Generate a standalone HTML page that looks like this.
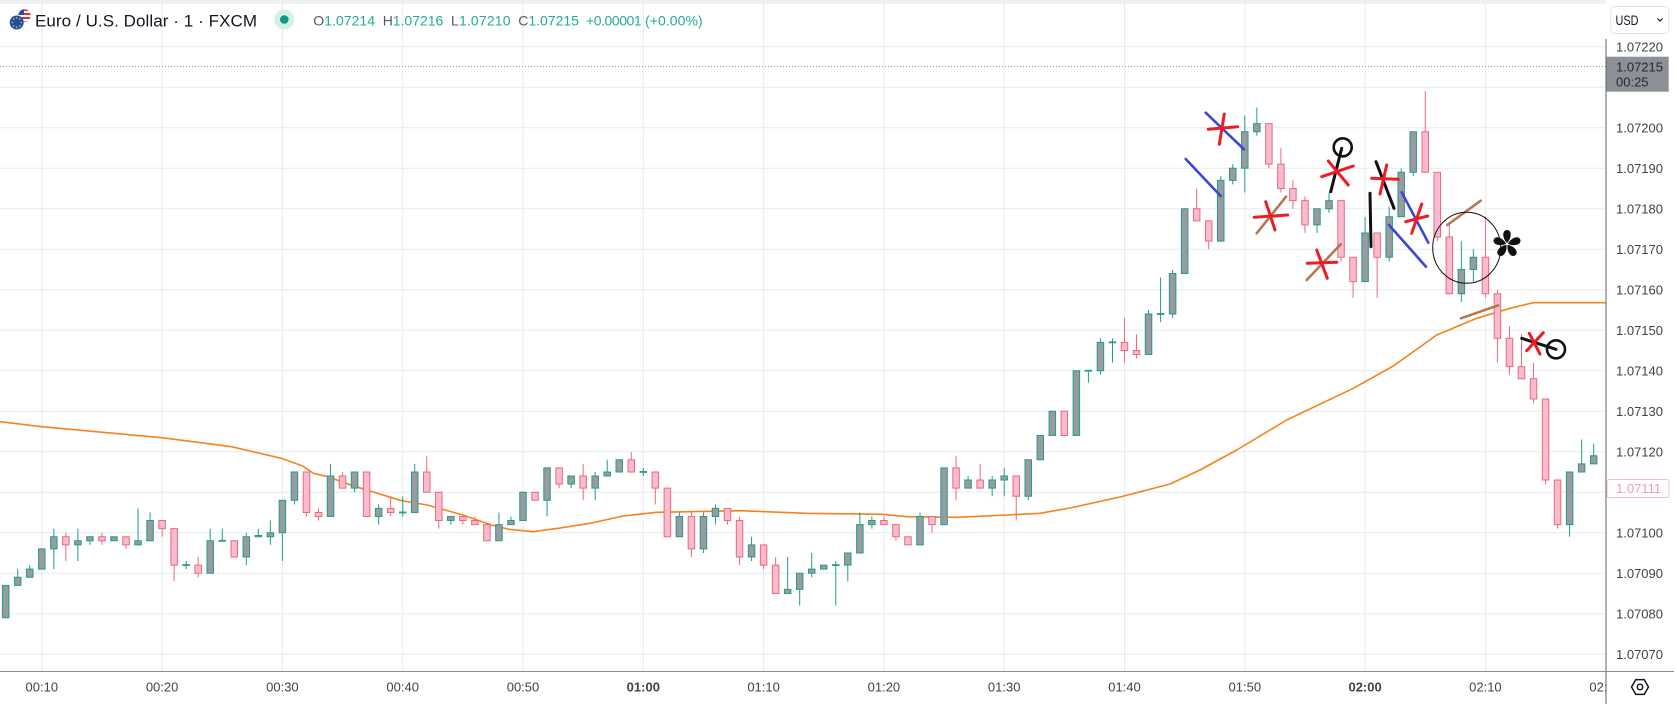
<!DOCTYPE html>
<html><head><meta charset="utf-8">
<style>
html,body{margin:0;padding:0;background:#fff;}
svg{display:block;font-family:"Liberation Sans",Arial,sans-serif;}
.c *{vector-effect:non-scaling-stroke;}
.u path{stroke:#1f9e89;stroke-width:1;fill:none;}
.u rect{fill:#9a9aa0;stroke:#1f9e89;stroke-width:1;}
.d path{stroke:#ec6a78;stroke-width:1;fill:none;}
.d rect{fill:#f8bbd0;stroke:#ec6a78;stroke-width:1;}
.pl{font-size:13px;fill:#3f424b;}
.tl{font-size:13px;fill:#3f424b;text-anchor:middle;}
</style></head>
<body>
<svg width="1677" height="704" viewBox="0 0 1677 704" xmlns="http://www.w3.org/2000/svg">
<defs>
<clipPath id="chart"><rect x="0" y="0" width="1606" height="671"/></clipPath>
<clipPath id="tclip"><rect x="0" y="672" width="1606" height="32"/></clipPath>
<clipPath id="usc"><circle cx="24.5" cy="15.5" r="6.2"/></clipPath>
</defs>
<rect width="1677" height="704" fill="#fff"/>
<rect x="0" y="0" width="1606" height="4" fill="#eef0f4"/>

<!-- grid -->
<g stroke="#e6ebf1" stroke-width="1">
<line x1="0" y1="46.7" x2="1606" y2="46.7"/>
<line x1="0" y1="87.2" x2="1606" y2="87.2"/>
<line x1="0" y1="127.7" x2="1606" y2="127.7"/>
<line x1="0" y1="168.2" x2="1606" y2="168.2"/>
<line x1="0" y1="208.7" x2="1606" y2="208.7"/>
<line x1="0" y1="249.2" x2="1606" y2="249.2"/>
<line x1="0" y1="289.7" x2="1606" y2="289.7"/>
<line x1="0" y1="330.2" x2="1606" y2="330.2"/>
<line x1="0" y1="370.7" x2="1606" y2="370.7"/>
<line x1="0" y1="411.2" x2="1606" y2="411.2"/>
<line x1="0" y1="451.7" x2="1606" y2="451.7"/>
<line x1="0" y1="492.2" x2="1606" y2="492.2"/>
<line x1="0" y1="532.7" x2="1606" y2="532.7"/>
<line x1="0" y1="573.2" x2="1606" y2="573.2"/>
<line x1="0" y1="613.7" x2="1606" y2="613.7"/>
<line x1="0" y1="654.2" x2="1606" y2="654.2"/>
<line x1="41.8" y1="0" x2="41.8" y2="671"/>
<line x1="162.1" y1="0" x2="162.1" y2="671"/>
<line x1="282.4" y1="0" x2="282.4" y2="671"/>
<line x1="402.7" y1="0" x2="402.7" y2="671"/>
<line x1="523" y1="0" x2="523" y2="671"/>
<line x1="643.3" y1="0" x2="643.3" y2="671"/>
<line x1="763.6" y1="0" x2="763.6" y2="671"/>
<line x1="883.9" y1="0" x2="883.9" y2="671"/>
<line x1="1004.2" y1="0" x2="1004.2" y2="671"/>
<line x1="1124.5" y1="0" x2="1124.5" y2="671"/>
<line x1="1244.8" y1="0" x2="1244.8" y2="671"/>
<line x1="1365.1" y1="0" x2="1365.1" y2="671"/>
<line x1="1485.4" y1="0" x2="1485.4" y2="671"/>
</g>

<!-- last price dotted line -->
<line x1="0" y1="66.5" x2="1606" y2="66.5" stroke="#9598a1" stroke-width="1" stroke-dasharray="1 2"/>

<g clip-path="url(#chart)">
<!-- moving average -->
<polyline fill="none" stroke="#f7821b" stroke-width="1.6" stroke-linejoin="round" points="0,421.7 41.8,426.7 106.9,432.7 162,437.7 231.5,446.7 281.3,458.3 302.7,466 313.4,473.3 327.6,476.7 356,486.7 401.6,500.7 427.3,505 462.9,515 491.3,525 509,529.3 533,531.7 558,528.3 590,523.3 623.3,516 656.7,512.3 740,510.7 806.7,513.3 883.3,514.3 906.7,516.7 956.7,517.3 1006.7,515 1040,513.3 1070,508 1120,497 1170,484 1200,470 1236.7,450 1286.7,420 1353.3,388.3 1393.3,366 1436.7,335 1476.7,318.3 1510,308.3 1533.3,302.7 1606,302.7"/>

<!-- candles -->
<g class="c" transform="matrix(12.03 0 0 -4.05 -78.5 937.7)">
<g class="u">
<path d="M7 79V87M8 87V91M9 89V92M10 91V96M11 91V101M13 93V101M14 97V99M16 98V99M18 97V106M19 98V105M22 91V93M24 90V101M25 98V101M27 92V100M28 99V101M29 97V103M30 93V108M31 107V115M34 104V117M36 110V115M38 102V107M40 104V109M41 105V117M44 102V104M48 98V105M49 102V104M50 103V110M52 104V116M54 111V114M56 108V115M57 114V118M58 115V118M60 114V116M63 99V105M65 95V105M66 102V107M69 93V99M72 85V94M73 82V90M74 89V95M75 91V92M76 82V93M77 88V95M78 95V105M79 101V104M83 97V105M85 102V116M87 111V114M89 109V114M90 109V116M92 108V118M93 118V124M94 124V130M96 124V140M97 137V140M98 139V148M99 142V148M102 144V155M103 152V163M104 153V165M105 164V180M108 172V188M109 186V191M110 184V203M111 198V205M116 174V180M117 179V184M120 162V178M122 167V180.5M123 178V190M124 188V199M128 157V172M129 162V170M137 99V115M138 115V123M139 117V122"/>
<rect x="6.73" y="79" width="0.54" height="8"/>
<rect x="7.73" y="87" width="0.54" height="2"/>
<rect x="8.73" y="89" width="0.54" height="2"/>
<rect x="9.73" y="91" width="0.54" height="5"/>
<rect x="10.73" y="96" width="0.54" height="3"/>
<rect x="12.73" y="97" width="0.54" height="1"/>
<rect x="13.73" y="98" width="0.54" height="1"/>
<rect x="15.73" y="98" width="0.54" height="1"/>
<rect x="17.73" y="97" width="0.54" height="1"/>
<rect x="18.73" y="98" width="0.54" height="5"/>
<rect x="21.73" y="91.9" width="0.54" height="0.2"/>
<rect x="23.73" y="90" width="0.54" height="8"/>
<rect x="24.73" y="97.9" width="0.54" height="0.2"/>
<rect x="26.73" y="94" width="0.54" height="5"/>
<rect x="27.73" y="99" width="0.54" height="0.3"/>
<rect x="28.73" y="99" width="0.54" height="1"/>
<rect x="29.73" y="100" width="0.54" height="8"/>
<rect x="30.73" y="108" width="0.54" height="7"/>
<rect x="33.73" y="104" width="0.54" height="10"/>
<rect x="35.73" y="111" width="0.54" height="4"/>
<rect x="37.73" y="104" width="0.54" height="2"/>
<rect x="39.73" y="104.9" width="0.54" height="0.2"/>
<rect x="40.73" y="105" width="0.54" height="10"/>
<rect x="43.73" y="103" width="0.54" height="1"/>
<rect x="47.73" y="98" width="0.54" height="4"/>
<rect x="48.73" y="102" width="0.54" height="1"/>
<rect x="49.73" y="103" width="0.54" height="7"/>
<rect x="51.73" y="108" width="0.54" height="8"/>
<rect x="53.73" y="112" width="0.54" height="2"/>
<rect x="55.73" y="111" width="0.54" height="3"/>
<rect x="56.73" y="114" width="0.54" height="1"/>
<rect x="57.73" y="115" width="0.54" height="3"/>
<rect x="59.73" y="114.9" width="0.54" height="0.2"/>
<rect x="62.73" y="99" width="0.54" height="5"/>
<rect x="64.73" y="96" width="0.54" height="8"/>
<rect x="65.73" y="104" width="0.54" height="2"/>
<rect x="68.73" y="94" width="0.54" height="3"/>
<rect x="71.73" y="85" width="0.54" height="1"/>
<rect x="72.73" y="86" width="0.54" height="4"/>
<rect x="73.73" y="90" width="0.54" height="1"/>
<rect x="74.73" y="91" width="0.54" height="1"/>
<rect x="75.73" y="91.9" width="0.54" height="0.2"/>
<rect x="76.73" y="92" width="0.54" height="3"/>
<rect x="77.73" y="95" width="0.54" height="7"/>
<rect x="78.73" y="102" width="0.54" height="1"/>
<rect x="82.73" y="97" width="0.54" height="7"/>
<rect x="84.73" y="102" width="0.54" height="14"/>
<rect x="86.73" y="111" width="0.54" height="2"/>
<rect x="88.73" y="111" width="0.54" height="2"/>
<rect x="89.73" y="113" width="0.54" height="1"/>
<rect x="91.73" y="109" width="0.54" height="9"/>
<rect x="92.73" y="118" width="0.54" height="6"/>
<rect x="93.73" y="124" width="0.54" height="6"/>
<rect x="95.73" y="124" width="0.54" height="16"/>
<rect x="96.73" y="139.9" width="0.54" height="0.2"/>
<rect x="97.73" y="140" width="0.54" height="7"/>
<rect x="98.73" y="146.9" width="0.54" height="0.2"/>
<rect x="101.73" y="144" width="0.54" height="10"/>
<rect x="102.73" y="153.9" width="0.54" height="0.2"/>
<rect x="103.73" y="154" width="0.54" height="10"/>
<rect x="104.73" y="164" width="0.54" height="16"/>
<rect x="107.73" y="172" width="0.54" height="15"/>
<rect x="108.73" y="187" width="0.54" height="3"/>
<rect x="109.73" y="190" width="0.54" height="9"/>
<rect x="110.73" y="199" width="0.54" height="2"/>
<rect x="115.73" y="176" width="0.54" height="4"/>
<rect x="116.73" y="180" width="0.54" height="2"/>
<rect x="119.73" y="162" width="0.54" height="12"/>
<rect x="121.73" y="168" width="0.54" height="10"/>
<rect x="122.73" y="178" width="0.54" height="11"/>
<rect x="123.73" y="189" width="0.54" height="10"/>
<rect x="127.73" y="159" width="0.54" height="6"/>
<rect x="128.73" y="165" width="0.54" height="3"/>
<rect x="136.73" y="102" width="0.54" height="13"/>
<rect x="137.73" y="115" width="0.54" height="2"/>
<rect x="138.73" y="117" width="0.54" height="2"/>
</g>
<g class="d">
<path d="M12 93V100M15 97V100M17 96V99M20 99V103M21 88V101M23 89V94M26 94V98M32 104V115M33 103V106M35 111V115M37 104V115M39 104V109M42 110V119M43 101V110M45 102V104M46 102V104M47 98V102M51 108V110M53 111V116M55 108V117M59 115V120M61 107V115M62 99V111M64 94V105M67 102V106M68 92V104M70 91V97M71 85V94M80 102V104M81 98V102M82 97V99M84 100V104M86 108V119M88 111V117M91 103V114M95 124V130M100 142V153M101 143V149M106 177V185M107 170V177M112 190V201M113 184V195M114 180V187M115 174V183M118 167V182M119 158V168M121 158V174M125 189V209M126 172V189M127 159V176M130 158V178M131 142V160M132 139V151M133 138V149M134 132V142M135 112V133M136 101V113"/>
<rect x="11.73" y="97" width="0.54" height="2"/>
<rect x="14.73" y="98" width="0.54" height="1"/>
<rect x="16.73" y="97" width="0.54" height="2"/>
<rect x="19.73" y="101" width="0.54" height="2"/>
<rect x="20.73" y="92" width="0.54" height="9"/>
<rect x="22.73" y="90" width="0.54" height="2"/>
<rect x="25.73" y="94" width="0.54" height="4"/>
<rect x="31.73" y="105" width="0.54" height="10"/>
<rect x="32.73" y="104" width="0.54" height="1"/>
<rect x="34.73" y="111" width="0.54" height="3"/>
<rect x="36.73" y="104" width="0.54" height="11"/>
<rect x="38.73" y="105" width="0.54" height="1"/>
<rect x="41.73" y="110" width="0.54" height="5"/>
<rect x="42.73" y="103" width="0.54" height="7"/>
<rect x="44.73" y="103" width="0.54" height="1"/>
<rect x="45.73" y="102" width="0.54" height="1"/>
<rect x="46.73" y="98" width="0.54" height="4"/>
<rect x="50.73" y="108" width="0.54" height="2"/>
<rect x="52.73" y="112" width="0.54" height="4"/>
<rect x="54.73" y="111" width="0.54" height="3"/>
<rect x="58.73" y="115" width="0.54" height="3"/>
<rect x="60.73" y="111" width="0.54" height="4"/>
<rect x="61.73" y="99" width="0.54" height="12"/>
<rect x="63.73" y="96" width="0.54" height="8"/>
<rect x="66.73" y="103" width="0.54" height="3"/>
<rect x="67.73" y="94" width="0.54" height="9"/>
<rect x="69.73" y="92" width="0.54" height="5"/>
<rect x="70.73" y="85" width="0.54" height="7"/>
<rect x="79.73" y="102" width="0.54" height="1"/>
<rect x="80.73" y="99" width="0.54" height="3"/>
<rect x="81.73" y="97" width="0.54" height="2"/>
<rect x="83.73" y="102" width="0.54" height="2"/>
<rect x="85.73" y="111" width="0.54" height="5"/>
<rect x="87.73" y="111" width="0.54" height="2"/>
<rect x="90.73" y="109" width="0.54" height="5"/>
<rect x="94.73" y="124" width="0.54" height="6"/>
<rect x="99.73" y="145" width="0.54" height="2"/>
<rect x="100.73" y="144" width="0.54" height="1"/>
<rect x="105.73" y="177" width="0.54" height="3"/>
<rect x="106.73" y="172" width="0.54" height="5"/>
<rect x="111.73" y="191" width="0.54" height="10"/>
<rect x="112.73" y="185" width="0.54" height="6"/>
<rect x="113.73" y="182" width="0.54" height="3"/>
<rect x="114.73" y="176" width="0.54" height="6"/>
<rect x="117.73" y="168" width="0.54" height="14"/>
<rect x="118.73" y="162" width="0.54" height="6"/>
<rect x="120.73" y="168" width="0.54" height="6"/>
<rect x="124.73" y="189" width="0.54" height="10"/>
<rect x="125.73" y="173" width="0.54" height="16"/>
<rect x="126.73" y="159" width="0.54" height="14"/>
<rect x="129.73" y="159" width="0.54" height="9"/>
<rect x="130.73" y="148" width="0.54" height="11"/>
<rect x="131.73" y="141" width="0.54" height="7"/>
<rect x="132.73" y="138" width="0.54" height="3"/>
<rect x="133.73" y="133" width="0.54" height="5"/>
<rect x="134.73" y="113" width="0.54" height="20"/>
<rect x="135.73" y="102" width="0.54" height="11"/>
</g>
</g>

<!-- drawings -->
<g fill="none" stroke-linecap="round">
<g stroke="#3c45d6" stroke-width="2.6">
<line x1="1205.7" y1="112.7" x2="1244" y2="149.3"/>
<line x1="1185.7" y1="159" x2="1220.7" y2="196"/>
<line x1="1401.7" y1="192.3" x2="1428.3" y2="242.7"/>
<line x1="1389" y1="225" x2="1426" y2="266.7"/>
</g>
<g stroke="#b5784f" stroke-width="2.6">
<line x1="1256.7" y1="233.3" x2="1286" y2="196.7"/>
<line x1="1306.7" y1="280" x2="1340.7" y2="244.3"/>
<line x1="1447.3" y1="225" x2="1480.7" y2="200.7"/>
<line x1="1461" y1="318.3" x2="1498.3" y2="305.3"/>
</g>
<g stroke="#111" stroke-width="3">
<line x1="1341.7" y1="148.3" x2="1330.7" y2="191.7"/>
<circle cx="1342.7" cy="147.3" r="9" stroke-width="2.6"/>
<line x1="1370" y1="193.3" x2="1371" y2="246.7"/>
<line x1="1376" y1="161.7" x2="1394" y2="208.3"/>
<line x1="1521.7" y1="338.3" x2="1556" y2="349.3"/>
<circle cx="1556" cy="349.3" r="9" stroke-width="2.6"/>
</g>
<g stroke="#ee1c25" stroke-width="3">
<line x1="1208.3" y1="129.3" x2="1237.7" y2="126.7"/>
<line x1="1224.3" y1="114" x2="1219.3" y2="144.3"/>
<line x1="1254.3" y1="217.3" x2="1287.7" y2="215"/>
<line x1="1265.7" y1="201.7" x2="1275" y2="230"/>
<line x1="1321.7" y1="176.7" x2="1353.3" y2="166"/>
<line x1="1328.3" y1="161" x2="1348.3" y2="185"/>
<line x1="1307.3" y1="263.3" x2="1336.7" y2="262.3"/>
<line x1="1316.7" y1="250" x2="1327.3" y2="278.3"/>
<line x1="1371.7" y1="178.3" x2="1398.3" y2="179.3"/>
<line x1="1386.7" y1="165" x2="1380" y2="194"/>
<line x1="1405.7" y1="221.7" x2="1427.7" y2="216"/>
<line x1="1421.7" y1="204" x2="1411.7" y2="233.3"/>
<line x1="1529.3" y1="333.3" x2="1540" y2="354"/>
<line x1="1543.3" y1="332.7" x2="1526.7" y2="350.7"/>
</g>
<ellipse cx="1466.7" cy="247.8" rx="34" ry="35.5" stroke="#111" stroke-width="1"/>
</g>
<g fill="#111" transform="translate(1507,244)">
<path d="M0 -1 C-5 -6 -5 -14 0 -14 C5 -14 5 -6 0 -1Z"/>
<path d="M0 -1 C-5 -6 -5 -14 0 -14 C5 -14 5 -6 0 -1Z" transform="rotate(72)"/>
<path d="M0 -1 C-5 -6 -5 -14 0 -14 C5 -14 5 -6 0 -1Z" transform="rotate(144)"/>
<path d="M0 -1 C-5 -6 -5 -14 0 -14 C5 -14 5 -6 0 -1Z" transform="rotate(216)"/>
<path d="M0 -1 C-5 -6 -5 -14 0 -14 C5 -14 5 -6 0 -1Z" transform="rotate(288)"/>
</g>
</g>

<!-- axes -->
<line x1="1606" y1="39" x2="1606" y2="704" stroke="#5d606b" stroke-width="1"/>
<line x1="0" y1="671.5" x2="1674" y2="671.5" stroke="#8a8d96" stroke-width="1"/>

<!-- price labels -->
<g class="pl">
<text x="1616" y="51.3">1.07220</text>
<text x="1616" y="132.3">1.07200</text>
<text x="1616" y="172.8">1.07190</text>
<text x="1616" y="213.3">1.07180</text>
<text x="1616" y="253.8">1.07170</text>
<text x="1616" y="294.3">1.07160</text>
<text x="1616" y="334.8">1.07150</text>
<text x="1616" y="375.3">1.07140</text>
<text x="1616" y="415.8">1.07130</text>
<text x="1616" y="456.3">1.07120</text>
<text x="1616" y="537.3">1.07100</text>
<text x="1616" y="577.8">1.07090</text>
<text x="1616" y="618.3">1.07080</text>
<text x="1616" y="658.8">1.07070</text>
</g>
<rect x="1606.5" y="56.7" width="62.2" height="35" fill="#8e9098"/>
<text x="1616" y="71.5" font-size="13" fill="#24272e">1.07215</text>
<text x="1616" y="86.5" font-size="13" fill="#24272e">00:25</text>
<rect x="1607" y="479.5" width="62" height="18" rx="2" fill="#fff" stroke="#f8bbd0" stroke-width="1"/>
<text x="1616" y="493" font-size="13" fill="#f29bb1">1.07111</text>

<!-- USD button -->
<rect x="1610.7" y="6.5" width="58" height="27" rx="4" fill="#fff" stroke="#e0e3eb"/>
<text x="1615.5" y="25" font-size="14" fill="#131722" textLength="23" lengthAdjust="spacingAndGlyphs">USD</text>
<path d="M1657.5 18.5 L1660 21 L1662.5 18.5" fill="none" stroke="#131722" stroke-width="1.2"/>

<!-- time labels -->
<g class="tl">
<text x="41.8" y="691.3">00:10</text>
<text x="162.1" y="691.3">00:20</text>
<text x="282.4" y="691.3">00:30</text>
<text x="402.7" y="691.3">00:40</text>
<text x="523" y="691.3">00:50</text>
<text x="643.3" y="691.3" font-weight="bold">01:00</text>
<text x="763.6" y="691.3">01:10</text>
<text x="883.9" y="691.3">01:20</text>
<text x="1004.2" y="691.3">01:30</text>
<text x="1124.5" y="691.3">01:40</text>
<text x="1244.8" y="691.3">01:50</text>
<text x="1365.1" y="691.3" font-weight="bold">02:00</text>
<text x="1485.4" y="691.3">02:10</text>
<text x="1605.7" y="691.3" clip-path="url(#tclip)">02:20</text>
</g>
<!-- gear -->
<polygon points="1631.5,687 1635.8,679.6 1644.2,679.6 1648.5,687 1644.2,694.4 1635.8,694.4" fill="none" stroke="#131722" stroke-width="1.5" stroke-linejoin="round"/>
<circle cx="1640" cy="687" r="2.7" fill="none" stroke="#131722" stroke-width="1.5"/>

<!-- header -->
<g>
<circle cx="24.5" cy="15.5" r="6.2" fill="#fff"/>
<g clip-path="url(#usc)">
<rect x="18" y="9" width="13" height="2" fill="#e0303a"/>
<rect x="18" y="13" width="13" height="2" fill="#e0303a"/>
<rect x="18" y="17" width="13" height="2" fill="#e0303a"/>
<rect x="18" y="21" width="13" height="2" fill="#e0303a"/>
<rect x="18" y="9" width="6" height="6" fill="#2c4aa0"/>
</g>
<circle cx="16.7" cy="22.5" r="7" fill="#1f4ea3"/>
<g fill="#f5c518">
<circle cx="16.7" cy="17.8" r="0.8"/><circle cx="19.8" cy="19" r="0.8"/><circle cx="21.2" cy="22.5" r="0.8"/><circle cx="19.8" cy="26" r="0.8"/><circle cx="16.7" cy="27.2" r="0.8"/><circle cx="13.6" cy="26" r="0.8"/><circle cx="12.2" cy="22.5" r="0.8"/><circle cx="13.6" cy="19" r="0.8"/>
</g>
</g>
<text x="35" y="26.5" font-size="17" fill="#131722" textLength="222" lengthAdjust="spacing">Euro / U.S. Dollar · 1 · FXCM</text>
<circle cx="284.3" cy="19.5" r="10" fill="#d6efe9"/>
<circle cx="284.3" cy="19.5" r="4.3" fill="#089981"/>
<g font-size="14">
<text x="313.3" y="25.5" textLength="61.7" lengthAdjust="spacing"><tspan fill="#555963">O</tspan><tspan fill="#22ab94">1.07214</tspan></text>
<text x="382.7" y="25.5" textLength="60.6" lengthAdjust="spacing"><tspan fill="#555963">H</tspan><tspan fill="#22ab94">1.07216</tspan></text>
<text x="451" y="25.5" textLength="59.5" lengthAdjust="spacing"><tspan fill="#555963">L</tspan><tspan fill="#22ab94">1.07210</tspan></text>
<text x="518.3" y="25.5" textLength="60.6" lengthAdjust="spacing"><tspan fill="#555963">C</tspan><tspan fill="#22ab94">1.07215</tspan></text>
<text x="586" y="25.5" fill="#22ab94" textLength="55.7" lengthAdjust="spacing">+0.00001</text>
<text x="645" y="25.5" fill="#22ab94" textLength="57.7" lengthAdjust="spacing">(+0.00%)</text>
</g>
</svg>
</body></html>
